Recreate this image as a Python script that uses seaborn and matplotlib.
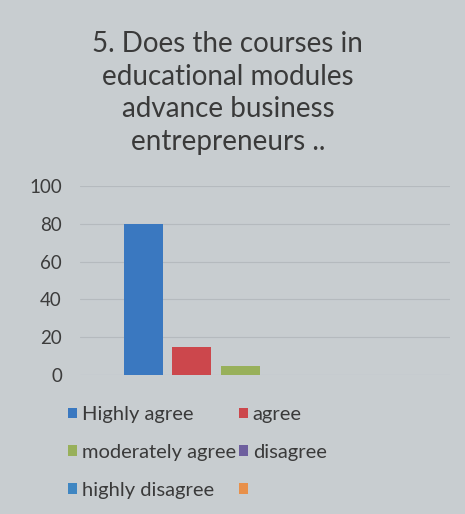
import pandas as pd
import matplotlib.pyplot as plt
import matplotlib.patches as mpatches
import seaborn as sns

# Survey question 5 - responses in percent
responses = ['Highly agree', 'agree', 'moderately agree', 'disagree', 'highly disagree', '']
percent = [80, 15, 5, 0, 0, 0]
colors = ['#3a78c0', '#cc474c', '#98b05a', '#6e5f9e', '#3f86c2', '#e8904a']
title = '5. Does the courses in\neducational modules\nadvance business\nentrepreneurs ..'

data = pd.DataFrame({'question': ['Q5'] * len(responses),
                     'response': responses,
                     'percent': percent})

bg = '#c8cdd0'
sns.set_style('white')
plt.rcParams['font.family'] = ['Lato', 'DejaVu Sans']

fig = plt.figure(figsize=(4.65, 5.14), dpi=100, facecolor=bg)
ax = fig.add_axes([0.172, 0.2704, 0.796, 0.3677], facecolor=bg)

palette = dict(zip(responses, colors))
sns.barplot(data=data, x='question', y='percent', hue='response',
            hue_order=responses, palette=palette, width=0.79, gap=0.2,
            saturation=1, legend=False, linewidth=0, ax=ax)

ax.set_ylim(0, 100)
ax.set_yticks(range(0, 101, 20))
ax.set_xlim(-0.5, 0.5)
ax.set_xticks([])
ax.set_xlabel('')
ax.set_ylabel('')
ax.tick_params(axis='y', length=0, pad=13, labelsize=13.5, labelcolor='#3c3c3c')
ax.yaxis.grid(True, color='#b5babe', linewidth=0.8)
ax.set_axisbelow(True)
sns.despine(ax=ax, left=True, bottom=True)

fig.text(0.49, 0.94, title, ha='center', va='top', fontsize=20,
         color='#3a3a3a', linespacing=1.32)

# legend filled row by row (matplotlib fills by column)
order = [0, 2, 4, 1, 3, 5]
handles = [mpatches.Patch(facecolor=colors[i], edgecolor='none') for i in order]
labels = [responses[i] for i in order]
fig.legend(handles, labels, loc='upper left', bbox_to_anchor=(0.108, 0.245),
           ncol=2, frameon=False, fontsize=14.5, handlelength=0.45, handleheight=0.45,
           handletextpad=0.25, columnspacing=0.1, labelspacing=1.03,
           labelcolor='#3a3a3a')

fig.savefig('out.png', dpi=100, facecolor=bg)
